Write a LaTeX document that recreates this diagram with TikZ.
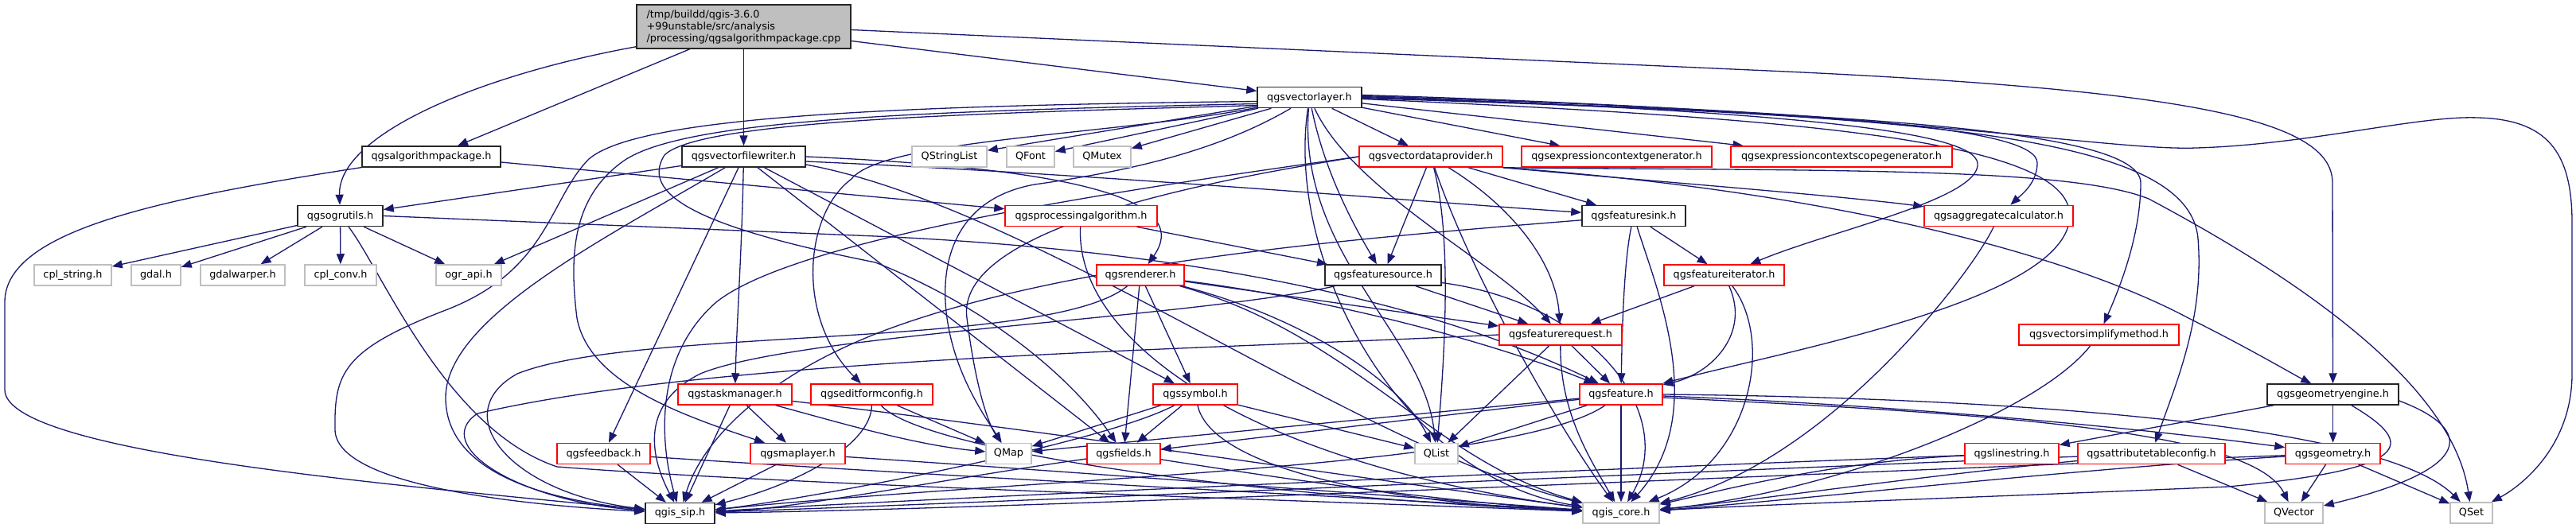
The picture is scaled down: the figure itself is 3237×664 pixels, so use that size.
\documentclass[tikz,border=0pt]{standalone}
\usepackage{fontspec}
\newfontfamily\dox{DejaVu Sans}
\usetikzlibrary{arrows.meta}
\definecolor{edgec}{HTML}{191970}
\definecolor{grayb}{HTML}{BFBFBF}
\pgfdeclarelayer{bgl}
\pgfdeclarelayer{edges}
\pgfsetlayers{bgl,edges,main}
\begin{document}
\begin{tikzpicture}[x=1pt,y=-1pt,
  nbox/.style={draw, rectangle, minimum height=26pt, inner sep=0pt, fill=white, line width=1.5pt, font=\dox\fontsize{12.8}{15}\selectfont, text=black},
  blk/.style={nbox, draw=black!85},
  redb/.style={nbox, draw=red},
  gryb/.style={nbox, draw=grayb},
  e/.style={draw=edgec, line width=1.3pt, -{Triangle[length=13pt,width=10pt]}}]
\begin{pgfonlayer}{bgl}
\fill[white] (0,0) rectangle (3237,664);
\end{pgfonlayer}
\useasboundingbox (0,0) rectangle (3237,664);
% nodes
\node[blk, fill=grayb, minimum width=269pt, minimum height=55pt, align=left] (main) at (934.5,33.5) {/tmp/buildd/qgis-3.6.0\\+99unstable/src/analysis\\/processing/qgsalgorithmpackage.cpp};
\node[blk, minimum width=131pt] (vl) at (1645.5,122.5) {qgsvectorlayer.h};
\node[blk, minimum width=174pt] (algpkg) at (542,197) {qgsalgorithmpackage.h};
\node[blk, minimum width=155pt] (vfw) at (934.5,197) {qgsvectorfilewriter.h};
\node[gryb, minimum width=94pt] (qsl) at (1193,197) {QStringList};
\node[gryb, minimum width=60pt] (qfont) at (1295,197) {QFont};
\node[gryb, minimum width=72pt] (qmutex) at (1385,197) {QMutex};
\node[redb, minimum width=180pt] (vdp) at (1798,197) {qgsvectordataprovider.h};
\node[redb, minimum width=239pt] (ecg) at (2031.5,197) {qgsexpressioncontextgenerator.h};
\node[redb, minimum width=278pt] (ecsg) at (2314,197) {qgsexpressioncontextscopegenerator.h};
\node[blk, minimum width=107pt] (ogr) at (427.5,271.5) {qgsogrutils.h};
\node[redb, minimum width=191pt] (palg) at (1358.5,271.5) {qgsprocessingalgorithm.h};
\node[blk, minimum width=130pt] (fsink) at (2053,271.5) {qgsfeaturesink.h};
\node[redb, minimum width=187pt] (aggc) at (2511.5,271.5) {qgsaggregatecalculator.h};
\node[gryb, minimum width=97pt] (cpls) at (91.5,346) {cpl\_string.h};
\node[gryb, minimum width=62pt] (gdal) at (196,346) {gdal.h};
\node[gryb, minimum width=106pt] (gdalw) at (305,346) {gdalwarper.h};
\node[gryb, minimum width=90pt] (cplc) at (428,346) {cpl\_conv.h};
\node[gryb, minimum width=82pt] (ograpi) at (589,346) {ogr\_api.h};
\node[redb, minimum width=110pt] (rend) at (1433,346) {qgsrenderer.h};
\node[blk, minimum width=146pt] (fsrc) at (1738,346) {qgsfeaturesource.h};
\node[redb, minimum width=151pt] (fit) at (2166.5,346) {qgsfeatureiterator.h};
\node[redb, minimum width=154pt] (freq) at (1961,421) {qgsfeaturerequest.h};
\node[redb, minimum width=201pt] (vsm) at (2637.5,421) {qgsvectorsimplifymethod.h};
\node[redb, minimum width=143pt] (tman) at (923.5,496) {qgstaskmanager.h};
\node[redb, minimum width=153pt] (efc) at (1095.5,496) {qgseditformconfig.h};
\node[redb, minimum width=106pt] (sym) at (1502,496) {qgssymbol.h};
\node[redb, minimum width=104pt] (feat) at (2037,496) {qgsfeature.h};
\node[blk, minimum width=165pt] (geng) at (2931.5,496) {qgsgeometryengine.h};
\node[redb, minimum width=117pt] (fb) at (758.5,570.5) {qgsfeedback.h};
\node[redb, minimum width=119pt] (ml) at (1002.5,570.5) {qgsmaplayer.h};
\node[gryb, minimum width=57pt] (qmap) at (1267.5,570.5) {QMap};
\node[redb, minimum width=92pt] (fields) at (1412,570.5) {qgsfields.h};
\node[gryb, minimum width=54pt] (qlist) at (1805,570.5) {QList};
\node[redb, minimum width=118pt] (ls) at (2528,570.5) {qgslinestring.h};
\node[redb, minimum width=185pt] (atc) at (2703.5,570.5) {qgsattributetableconfig.h};
\node[redb, minimum width=119pt] (geom) at (2931.5,570.5) {qgsgeometry.h};
\node[blk, minimum width=87pt] (sip) at (854.5,645.5) {qgis\_sip.h};
\node[gryb, minimum width=96pt] (core) at (2037,645) {qgis\_core.h};
\node[gryb, minimum width=73pt] (qvec) at (2882.5,645) {QVector};
\node[gryb, minimum width=53pt] (qset) at (3105.5,645) {QSet};
\begin{pgfonlayer}{edges}
% main
\draw[e] (main) -- (algpkg);
\draw[e] ([yshift=3pt]main.south west) .. controls (600,95) and (424,170) .. (ogr);
\draw[e] (main) -- (vfw);
\draw[e] ([yshift=-18pt]main.east) -- (vl);
\draw[e] ([yshift=-4pt]main.east) -- (2200,88) .. controls (2750,112) and (2931,150) .. (2931,230) -- (geng);
% algpkg
\draw[e] (algpkg) .. controls (200,250) and (6,290) .. (6,380) -- (6,490) .. controls (6,570) and (500,610) .. (sip);
\draw[e] ([yshift=-7pt]algpkg.east) -- (palg);
% ogr
\draw[e] (ogr) -- (cpls);
\draw[e] (ogr) -- (gdal);
\draw[e] (ogr) -- (gdalw);
\draw[e] (ogr) -- (cplc);
\draw[e] (ogr) -- (ograpi);
\draw[e] (ogr) .. controls (480,340) and (560,540) .. (700,587) .. controls (1000,610) and (1600,628) .. (core);
\draw[e] (ogr.east) -- (1100,297) .. controls (1500,315) and (1800,380) .. (feat);
% vfw
\draw[e] (vfw) -- (ogr);
\draw[e] (vfw) -- (ograpi);
\draw[e] (vfw) -- (fb);
\draw[e] (vfw) .. controls (932,320) and (926,400) .. (tman);
\draw[e] (vfw) -- (sym);
\draw[e] (vfw) -- (fields);
\draw[e] (vfw.east) .. controls (1350,212) and (1500,250) .. (rend);
\draw[e] ([yshift=-6pt]vfw.east) .. controls (1400,220) and (1800,255) .. (fsink);
\draw[e] ([yshift=-10pt]vfw.east) .. controls (1300,260) and (1700,560) .. (core);
\draw[e] (vfw) .. controls (760,300) and (560,400) .. (560,500) .. controls (560,600) and (700,630) .. (sip);
% vl
\draw[e] (vl) -- (qsl);
\draw[e] (vl) -- (qfont);
\draw[e] (vl) -- (qmutex);
\draw[e] (vl) -- (vdp);
\draw[e] (vl) -- (ecg);
\draw[e] (vl) -- (ecsg);
\draw[e] (vl) .. controls (1665,220) and (1705,290) .. (fsrc);
\draw[e] (vl) .. controls (1700,240) and (1880,330) .. (freq);
\draw[e] (vl) .. controls (1615,330) and (1760,600) .. (core);
\draw[e] (vl) .. controls (1630,320) and (1790,420) .. (qlist);
\draw[e] ([yshift=2pt]vl.east) .. controls (2300,140) and (2560,160) .. (2560,205) .. controls (2560,230) and (2540,245) .. (aggc);
\draw[e] ([yshift=1pt]vl.east) .. controls (2250,140) and (2480,165) .. (2485,205) .. controls (2490,250) and (2300,290) .. (fit);
\draw[e] (vl.east) .. controls (2300,142) and (2690,160) .. (2690,230) .. controls (2690,300) and (2660,370) .. (vsm);
\draw[e] ([yshift=-1pt]vl.east) .. controls (2400,145) and (2750,165) .. (2762,300) .. controls (2770,400) and (2735,480) .. (atc);
\draw[e] ([yshift=-2pt]vl.east) .. controls (2300,150) and (2620,180) .. (2600,280) .. controls (2580,380) and (2250,440) .. (feat);
\draw[e] ([yshift=3pt]vl.east) .. controls (2400,140) and (2650,190) .. (2760,186) .. controls (2900,182) and (3040,145) .. (3113,148) .. controls (3200,150) and (3232,190) .. (3232,280) -- (3232,470) .. controls (3232,560) and (3170,610) .. (qset);
\draw[e] ([yshift=-5pt]vl.west) .. controls (1100,133) and (800,148) .. (740,200) .. controls (690,250) and (690,340) .. (560,390) .. controls (430,440) and (420,470) .. (421,540) .. controls (421,610) and (650,635) .. (sip);
\draw[e] ([yshift=-8pt]vl.west) .. controls (1150,140) and (850,150) .. (780,205) .. controls (720,250) and (715,320) .. (725,400) .. controls (740,480) and (850,520) .. (ml);
\draw[e] ([yshift=-10pt]vl.west) .. controls (1250,142) and (880,150) .. (835,195) .. controls (800,250) and (900,290) .. (1100,330) .. controls (1250,390) and (1350,480) .. (fields);
\draw[e] (vl) .. controls (1530,190) and (1420,215) .. (1300,232) .. controls (1200,250) and (1180,330) .. (1190,400) .. controls (1200,470) and (1235,520) .. (qmap);
\draw[e] (vl) .. controls (1400,170) and (1110,175) .. (1070,225) .. controls (1010,270) and (1000,400) .. (efc);
% vdp
\draw[e] (vdp) -- (fsrc);
\draw[e] (vdp) .. controls (1825,300) and (1815,450) .. (qlist);
\draw[e] (vdp) -- (fsink);
\draw[e] (vdp) .. controls (1900,260) and (1955,330) .. (freq);
\draw[e] (vdp.south east) .. controls (2100,230) and (2300,245) .. (aggc);
\draw[e] (vdp.south east) .. controls (2300,240) and (2600,320) .. (2750,400) .. controls (2830,440) and (2880,470) .. (geng);
\draw[e] (vdp.south east) .. controls (2300,215) and (2600,210) .. (2700,250) .. controls (2850,330) and (3080,470) .. (qset);
\draw[e] (vdp) .. controls (1850,350) and (1960,540) .. (core);
\draw[e] (vdp.west) .. controls (1400,240) and (1000,300) .. (900,380) .. controls (820,450) and (830,560) .. (sip);
\draw[e] (vdp.west) .. controls (1500,230) and (1200,290) .. (1215,400) .. controls (1225,480) and (1240,530) .. (qmap);
% palg
\draw[e] (palg) -- (fsrc);
\draw[e] (palg) .. controls (1350,420) and (1550,580) .. (core);
% fsink
\draw[e] (fsink) .. controls (2040,330) and (2038,430) .. (feat);
\draw[e] (fsink) .. controls (2080,360) and (2150,520) .. (core);
\draw[e] (fsink) -- (fit);
\draw[e] (fsink) .. controls (1700,300) and (1330,330) .. (1100,420) .. controls (950,480) and (880,560) .. (sip);
% aggc
\draw[e] (aggc) .. controls (2480,340) and (2300,580) .. (core);
% rend
\draw[e] (rend) -- (freq);
\draw[e] (rend) -- (sym);
\draw[e] (rend) -- (fields);
\draw[e] (rend) .. controls (1640,400) and (1760,480) .. (qlist);
\draw[e] (rend) .. controls (1700,420) and (1800,580) .. (core);
\draw[e] (rend) .. controls (1700,380) and (1900,440) .. (feat);
\draw[e] (rend) .. controls (1320,440) and (800,410) .. (650,470) .. controls (560,520) and (640,620) .. (sip);
% fsrc
\draw[e] (fsrc) -- (freq);
\draw[e] (fsrc) .. controls (2000,380) and (2110,520) .. (core);
\draw[e] (fsrc) .. controls (1500,400) and (1000,420) .. (880,470) .. controls (800,510) and (820,580) .. (sip);
% fit
\draw[e] (fit) -- (freq);
\draw[e] (fit) .. controls (2200,420) and (2150,470) .. (feat);
\draw[e] (fit) .. controls (2230,430) and (2200,580) .. (core);
% freq
\draw[e] (freq) -- (feat);
\draw[e] (freq) -- (qlist);
\draw[e] (freq) .. controls (1960,520) and (2000,580) .. (core);
\draw[e] (freq.west) .. controls (1500,440) and (900,450) .. (600,520) .. controls (540,560) and (650,630) .. (sip);
% vsm
\draw[e] (vsm) .. controls (2560,520) and (2300,620) .. (core);
% tman
\draw[e] (tman) -- (sip);
\draw[e] (tman) -- (ml);
\draw[e] (tman) .. controls (1050,530) and (1150,560) .. (qmap);
\draw[e] (tman) .. controls (1300,540) and (1700,600) .. (core);
% efc
\draw[e] (efc) -- (qmap);
\draw[e] (efc) .. controls (1095,560) and (1000,610) .. (sip);
\draw[e] (efc) .. controls (1150,560) and (1500,620) .. (core);
% sym
\draw[e] (sym) -- (qmap);
\draw[e] (sym) -- (fields);
\draw[e] (sym) -- (qlist);
\draw[e] (sym) .. controls (1520,580) and (1700,630) .. (core);
\draw[e] (sym) .. controls (1380,560) and (1000,630) .. (sip);
% feat
\draw[e] (feat) -- (qmap);
\draw[e] (feat) -- (fields);
\draw[e] (feat) -- (qlist);
\draw[e] (feat) -- (core);
\draw[e] (feat) .. controls (1900,590) and (1300,600) .. (sip);
\draw[e] ([yshift=-2pt]feat.east) .. controls (2400,510) and (2700,540) .. (geom);
\draw[e] ([yshift=-4pt]feat.east) .. controls (2500,520) and (2830,540) .. (qvec);
\draw[e] (feat.east) .. controls (2500,500) and (2990,530) .. (qset);
% geng
\draw[e] (geng) -- (ls);
\draw[e] (geng) -- (geom);
\draw[e] ([yshift=-8pt]geng.east) .. controls (3110,540) and (3110,590) .. (qvec);
\draw[e] (geng) .. controls (3040,560) and (3030,590) .. (2800,612) .. controls (2500,625) and (2200,635) .. (core);
% fb, ml, fields
\draw[e] (fb) -- (sip);
\draw[e] (fb) .. controls (1200,600) and (1700,625) .. (core);
\draw[e] (ml) -- (sip);
\draw[e] (ml) .. controls (1300,590) and (1700,620) .. (core);
\draw[e] (fields) .. controls (1200,600) and (1000,640) .. (sip);
\draw[e] (fields) .. controls (1600,600) and (1800,630) .. (core);
% ls, atc, geom
\draw[e] (ls) .. controls (2300,580) and (2150,620) .. (core);
\draw[e] (ls) .. controls (2000,590) and (1200,625) .. (sip);
\draw[e] (atc) -- (qvec);
\draw[e] (atc) .. controls (2400,600) and (2200,630) .. (core);
\draw[e] (atc) .. controls (2200,590) and (1300,630) .. (sip);
\draw[e] (geom) -- (qvec);
\draw[e] (geom) -- (qset);
\draw[e] (geom) .. controls (2600,590) and (2250,630) .. (core);
\draw[e] (geom) .. controls (2400,590) and (1300,640) .. (sip);
\end{pgfonlayer}
\end{tikzpicture}
\end{document}
